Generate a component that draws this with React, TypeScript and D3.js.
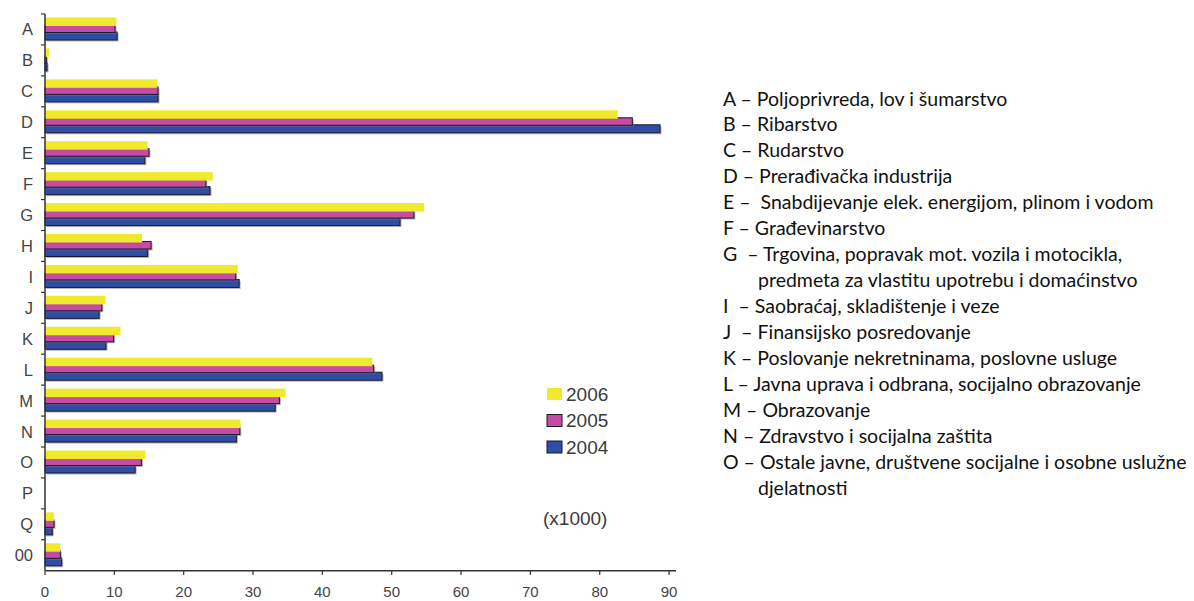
import React from "react";
import * as d3 from "d3";

const categories = ["A","B","C","D","E","F","G","H","I","J","K","L","M","N","O","P","Q","00"];
const series2006 = [10.3,0.6,16.2,82.6,14.8,24.2,54.7,14.0,27.8,8.7,10.9,47.2,34.7,28.2,14.5,0,1.3,2.2];
const series2005 = [10.1,0.2,16.3,84.7,15.0,23.2,53.2,15.3,27.5,8.2,9.9,47.4,33.8,28.1,13.9,0,1.3,2.2];
const series2004 = [10.4,0.3,16.3,88.7,14.4,23.8,51.2,14.8,28.0,7.8,8.8,48.6,33.2,27.6,13.0,0,1.05,2.4];
const xTicks = [0,10,20,30,40,50,60,70,80,90];
const legendYears = ["2006","2005","2004"];
const unitLabel = "(x1000)";
const descriptions = [
  "A – Poljoprivreda, lov i šumarstvo",
  "B – Ribarstvo",
  "C – Rudarstvo",
  "D – Prerađivačka industrija",
  "E –  Snabdijevanje elek. energijom, plinom i vodom",
  "F – Građevinarstvo",
  "G  – Trgovina, popravak mot. vozila i motocikla,",
  "predmeta za vlastitu upotrebu i domaćinstvo",
  "I  – Saobraćaj, skladištenje i veze",
  "J  – Finansijsko posredovanje",
  "K – Poslovanje nekretninama, poslovne usluge",
  "L – Javna uprava i odbrana, socijalno obrazovanje",
  "M – Obrazovanje",
  "N – Zdravstvo i socijalna zaštita",
  "O – Ostale javne, društvene socijalne i osobne uslužne",
  "djelatnosti",
];
const continuationLines = [7, 15];

const W = 1194, H = 601;
const colors = { y2006: "#F0EA2E", y2005: "#C54BA4", y2004: "#2E4EA5" };

export default function App() {
  const x = d3.scaleLinear().domain([0, 91]).range([45, 676]);
  const y = d3.scaleBand<string>().domain(categories).range([14, 570.7]).padding(0);
  const bw = y.bandwidth();
  const axisColor = "#333";
  const textGray = "#444";

  const barSpecs = [
    { key: "2004", data: series2004, color: colors.y2004, off: 18, h: 8, stroke: true },
    { key: "2005", data: series2005, color: colors.y2005, off: 11, h: 7.5, stroke: true },
    { key: "2006", data: series2006, color: colors.y2006, off: 3.5, h: 8.5, stroke: false },
  ];

  const legendSpecs = [
    { label: legendYears[0], color: colors.y2006, stroke: false },
    { label: legendYears[1], color: colors.y2005, stroke: true },
    { label: legendYears[2], color: colors.y2004, stroke: true },
  ];

  return (
    <svg width={W} height={H} style={{ position: "absolute", left: 0, top: 0, background: "#fff" }}>
      {/* bars */}
      {categories.map((c, i) => (
        <g key={c}>
          {barSpecs.map((s) => {
            const v = s.data[i];
            if (v <= 0) return null;
            const x0 = x(0);
            const w = x(v) - x0;
            const yy = (y(c) as number) + s.off;
            return (
              <g key={s.key}>
                {s.stroke && (
                  <rect x={x0 + 1.5} y={yy + 1.5} width={w} height={s.h} fill="#777" opacity={0.55} />
                )}
                <rect
                  x={x0}
                  y={yy}
                  width={w}
                  height={s.h}
                  fill={s.color}
                  stroke={s.stroke ? "#1b1b2a" : "none"}
                  strokeWidth={s.stroke ? 1 : 0}
                />
              </g>
            );
          })}
        </g>
      ))}

      {/* y axis */}
      <line x1={x(0)} x2={x(0)} y1={14} y2={570.7} stroke={axisColor} strokeWidth={1.5} />
      {categories.map((c) => (
        <line key={"t" + c} x1={x(0) - 4} x2={x(0)} y1={y(c) as number} y2={y(c) as number} stroke={axisColor} strokeWidth={1.2} />
      ))}
      {categories.map((c) => (
        <text
          key={"l" + c}
          x={33}
          y={(y(c) as number) + bw / 2}
          textAnchor="end"
          dominantBaseline="central"
          fontFamily="Liberation Sans, Arial, sans-serif"
          fontSize={16.5}
          fill={textGray}
        >
          {c}
        </text>
      ))}

      {/* x axis */}
      <line x1={x(0)} x2={x(91)} y1={570.7} y2={570.7} stroke={axisColor} strokeWidth={1.5} />
      {xTicks.map((t) => (
        <g key={"x" + t}>
          <line x1={x(t)} x2={x(t)} y1={570.7} y2={575} stroke={axisColor} strokeWidth={1.2} />
          <text
            x={x(t)}
            y={591}
            textAnchor="middle"
            dominantBaseline="central"
            fontFamily="Liberation Sans, Arial, sans-serif"
            fontSize={15}
            fill={textGray}
          >
            {t}
          </text>
        </g>
      ))}

      {/* legend */}
      {legendSpecs.map((l, i) => {
        const cy = 394 + i * 26.5;
        return (
          <g key={l.label}>
            <rect
              x={547}
              y={cy - 6}
              width={15}
              height={12}
              fill={l.color}
              stroke={l.stroke ? "#1b1b2a" : "none"}
              strokeWidth={1}
            />
            <text
              x={566}
              y={cy}
              dominantBaseline="central"
              fontFamily="Liberation Sans, Arial, sans-serif"
              fontSize={19}
              fill="#3a3a3a"
            >
              {l.label}
            </text>
          </g>
        );
      })}
      <text
        x={543}
        y={518}
        dominantBaseline="central"
        fontFamily="Liberation Sans, Arial, sans-serif"
        fontSize={19}
        fill="#3a3a3a"
      >
        {unitLabel}
      </text>

      {/* descriptions */}
      {descriptions.map((d, i) => (
        <text
          key={"d" + i}
          x={continuationLines.includes(i) ? 758 : 723}
          y={98 + i * 25.95}
          dominantBaseline="central"
          fontFamily="Lato, 'Open Sans', sans-serif"
          fontSize={19.5}
          fill="#111"
          style={{ whiteSpace: "pre" }}
        >
          {d}
        </text>
      ))}
    </svg>
  );
}
